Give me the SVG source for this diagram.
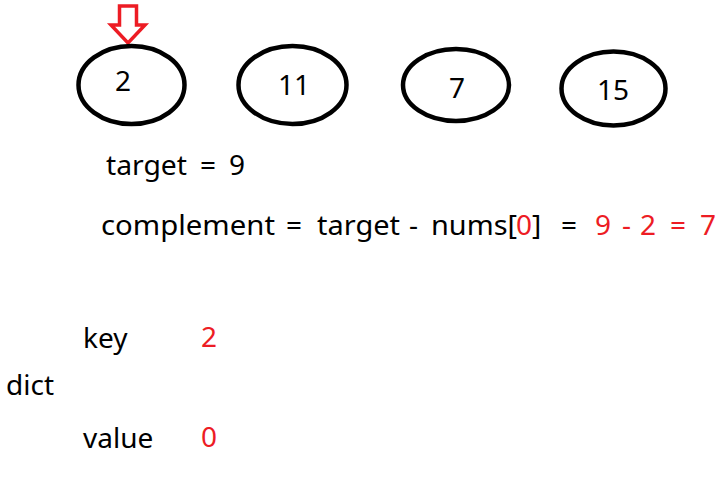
<svg xmlns="http://www.w3.org/2000/svg" width="728" height="490" viewBox="0 0 728 490">
<style>
  .node ellipse { fill: none; stroke: #000; stroke-width: 4.5; }
  text { font-family: "Noto Sans", "Open Sans", "DejaVu Sans", sans-serif; font-size: 28px; fill: #000; }
  .num { text-anchor: middle; }
  .red { fill: #ED1C24; }
  .arrow { fill: #fff; stroke: #ED1C24; stroke-width: 3.5; stroke-linejoin: miter; }
</style>
<rect width="728" height="490" fill="#fff"/>
<g id="pointer">
  <polygon class="arrow" points="119.5,6 136.5,6 136.5,25 145,25 128,43 111,25 119.5,25"/>
</g>
<g id="node-2" class="node">
  <ellipse cx="131.5" cy="85" rx="53" ry="39"/>
  <text class="num" x="123" y="91">2</text>
</g>
<g id="node-11" class="node">
  <ellipse cx="292.5" cy="85" rx="54" ry="39"/>
  <text class="num" x="294" y="95">11</text>
</g>
<g id="node-7" class="node">
  <ellipse cx="456" cy="85" rx="53" ry="36"/>
  <text class="num" x="457" y="98">7</text>
</g>
<g id="node-15" class="node">
  <ellipse cx="613.5" cy="88.5" rx="52" ry="37"/>
  <text class="num" x="613" y="100">15</text>
</g>
<g id="connectors"></g>
<g id="formula">
  <text x="106" y="175" textLength="81" lengthAdjust="spacingAndGlyphs">target</text>
  <text x="200" y="175">=</text>
  <text x="229" y="175">9</text>
  <text x="101" y="235" textLength="174" lengthAdjust="spacingAndGlyphs">complement</text>
  <text x="286" y="235">=</text>
  <text x="317" y="235" textLength="83" lengthAdjust="spacingAndGlyphs">target</text>
  <text x="409" y="235">-</text>
  <text x="431" y="235" textLength="86" lengthAdjust="spacingAndGlyphs">nums[</text>
  <text class="red" x="516" y="235">0</text>
  <text x="532" y="235">]</text>
  <text x="561" y="235">=</text>
  <text class="red" x="595" y="235">9</text>
  <text class="red" x="622" y="235">-</text>
  <text class="red" x="640" y="235">2</text>
  <text class="red" x="670" y="235">=</text>
  <text class="red" x="700" y="235">7</text>
</g>
<g id="dict">
  <text x="83" y="348">key</text>
  <text class="red" x="201" y="347">2</text>
  <text x="6" y="395">dict</text>
  <text x="83" y="448">value</text>
  <text class="red" x="201" y="447">0</text>
</g>
</svg>
